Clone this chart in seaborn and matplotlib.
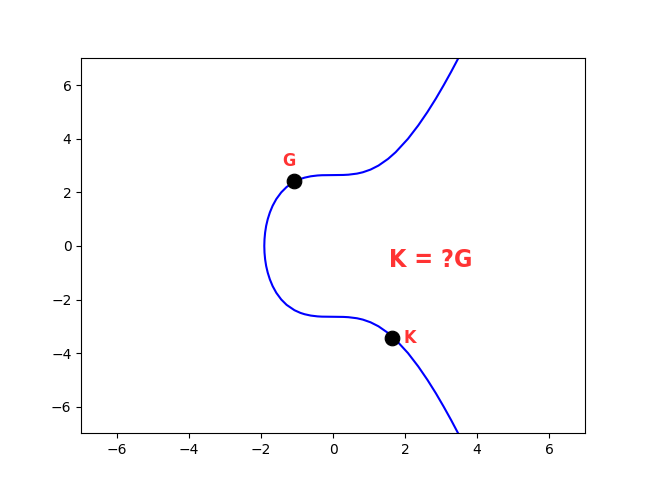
import matplotlib
matplotlib.use("Agg")
import matplotlib.pyplot as plt
import seaborn as sns
import pandas as pd

# points, top branch then bottom branch
curve_x = [3.665, 3.476, 3.279, 3.072, 2.855, 2.621, 2.366, 2.080, 1.738, 1.527,
           1.260, 1.039, 0.825, 0.662, 0.423, 0.282, 0.0, -0.312, -0.436, -0.621,
           -0.792, -0.909, -1.074, -1.293, -1.442, -1.579, -1.681, -1.758, -1.817,
           -1.861, -1.890, -1.907, -1.913,
           -1.907, -1.890, -1.861, -1.817, -1.758, -1.681, -1.579, -1.442, -1.293,
           -1.074, -0.909, -0.792, -0.621, -0.436, -0.312, 0.0, 0.282, 0.423, 0.662,
           0.825, 1.039, 1.260, 1.527, 1.738, 2.080, 2.366, 2.621, 2.855, 3.072,
           3.279, 3.476, 3.665]
curve_y = [7.5, 7.0, 6.5, 6.0, 5.5, 5.0, 4.5, 4.0, 3.5, 3.25,
           3.0, 2.85, 2.75, 2.7, 2.66, 2.65, 2.645, 2.64, 2.63, 2.6,
           2.55, 2.5, 2.4, 2.2, 2.0, 1.75, 1.5, 1.25, 1.0,
           0.75, 0.5, 0.25, 0.0,
           -0.25, -0.5, -0.75, -1.0, -1.25, -1.5, -1.75, -2.0, -2.2,
           -2.4, -2.5, -2.55, -2.6, -2.63, -2.64, -2.645, -2.65, -2.66, -2.7,
           -2.75, -2.85, -3.0, -3.25, -3.5, -4.0, -4.5, -5.0, -5.5, -6.0,
           -6.5, -7.0, -7.5]

point_names = ["G", "K"]
point_x = [-1.1, 1.65]
point_y = [2.42, -3.42]

ticks = [-6, -4, -2, 0, 2, 4, 6]

curve = pd.DataFrame({"x": curve_x, "y": curve_y})
pts = pd.DataFrame({"name": point_names, "x": point_x, "y": point_y})

fig, ax = plt.subplots(figsize=(6.5, 4.87), dpi=100)

sns.lineplot(data=curve, x="x", y="y", sort=False, estimator=None,
             color="blue", linewidth=1.5, ax=ax)
sns.scatterplot(data=pts, x="x", y="y", color="black", s=110,
                edgecolor="black", zorder=5, ax=ax)

red = "#ff3333"
font = dict(family="DejaVu Sans", stretch="condensed", weight="bold", color=red)
ax.text(-1.23, 3.16, "G", fontsize=13, ha="center", va="center", **font)
ax.text(1.95, -3.45, "K", fontsize=13, ha="left", va="center", **font)
ax.text(2.7, -0.52, "K = ?G", fontsize=18, ha="center", va="center", **font)

ax.set_xlim(-7, 7)
ax.set_ylim(-7, 7)
ax.set_xticks(ticks)
ax.set_yticks(ticks)
ax.set_xlabel("")
ax.set_ylabel("")

fig.savefig("out.png", dpi=100)
